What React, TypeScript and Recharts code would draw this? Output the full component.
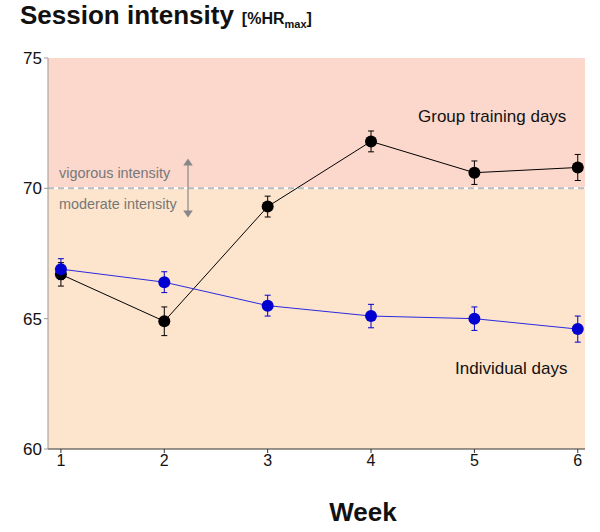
import React from "react";
import {
  LineChart,
  Line,
  XAxis,
  YAxis,
  ReferenceArea,
  ReferenceLine,
  ErrorBar,
} from "recharts";

const weeks = [1, 2, 3, 4, 5, 6];
const groupDays = [66.7, 64.9, 69.3, 71.8, 70.6, 70.8];
const groupErr = [0.45, 0.55, 0.4, 0.4, 0.45, 0.5];
const individualDays = [66.9, 66.4, 65.5, 65.1, 65.0, 64.6];
const individualErr = [0.4, 0.4, 0.4, 0.45, 0.45, 0.5];
const yTicks = [60, 65, 70, 75];

const data = weeks.map((w, i) => ({
  week: w,
  group: groupDays[i],
  groupErr: groupErr[i],
  individual: individualDays[i],
  individualErr: individualErr[i],
}));

const FONT = "'Liberation Sans', Arial, sans-serif";

export default function App() {
  return (
    <div
      style={{
        position: "absolute",
        left: 0,
        top: 0,
        width: 600,
        height: 532,
        background: "#fff",
        fontFamily: FONT,
      }}
    >
      {/* title */}
      <div
        style={{
          position: "absolute",
          left: 20,
          top: 0,
          whiteSpace: "nowrap",
          color: "#111",
        }}
      >
        <span style={{ fontSize: 26, fontWeight: "bold" }}>Session intensity</span>
        <span style={{ fontSize: 16, fontWeight: "bold", marginLeft: 8 }}>
          [%HR<sub style={{ fontSize: 11 }}>max</sub>]
        </span>
      </div>

      <LineChart
        width={600}
        height={532}
        data={data}
        margin={{ top: 58, right: 15, bottom: 0, left: 0 }}
        style={{ fontFamily: FONT }}
      >
        <XAxis
          dataKey="week"
          type="number"
          domain={[0.875, 6.07]}
          ticks={weeks}
          stroke="#333"
          tick={{ fill: "#111", fontSize: 16 }}
          tickSize={4}
          height={83}
        />
        <YAxis
          type="number"
          domain={[60, 75]}
          ticks={yTicks}
          stroke="#999"
          tick={{ fill: "#111", fontSize: 17 }}
          tickSize={4}
          width={48}
        />
        <ReferenceArea y1={70} y2={75} fill="#fcd8cc" fillOpacity={1} stroke="none" />
        <ReferenceArea y1={60} y2={70} fill="#fde4cc" fillOpacity={1} stroke="none" />
        <ReferenceLine y={70} stroke="#fff" strokeWidth={2} />
        <ReferenceLine y={70} stroke="#bbb" strokeWidth={2} strokeDasharray="6 4" />
        <Line
          dataKey="group"
          stroke="#000"
          strokeWidth={1}
          dot={{ r: 6, fill: "#000", stroke: "none" }}
          isAnimationActive={false}
        >
          <ErrorBar dataKey="groupErr" direction="y" width={3} stroke="#000" strokeWidth={1} />
        </Line>
        <Line
          dataKey="individual"
          stroke="#2a2ae0"
          strokeWidth={1}
          dot={{ r: 6, fill: "#0000d0", stroke: "none" }}
          isAnimationActive={false}
        >
          <ErrorBar dataKey="individualErr" direction="y" width={3} stroke="#0000d0" strokeWidth={1} />
        </Line>
      </LineChart>

      {/* annotations */}
      <svg
        width={600}
        height={532}
        style={{ position: "absolute", left: 0, top: 0, pointerEvents: "none" }}
      >
        <defs>
          <marker id="ah" markerWidth="6" markerHeight="8" refX="3" refY="4" orient="auto-start-reverse">
            <path d="M0,0 L6,4 L0,8 z" fill="#888" />
          </marker>
        </defs>
        <text x={59} y={178} fontSize={14.4} fill="#777" fontFamily={FONT}>vigorous intensity</text>
        <text x={59} y={209} fontSize={14.4} fill="#777" fontFamily={FONT}>moderate intensity</text>
        <line
          x1={188}
          y1={162}
          x2={188}
          y2={214}
          stroke="#888"
          strokeWidth={1.2}
          markerStart="url(#ah)"
          markerEnd="url(#ah)"
        />
        <text x={418} y={122} fontSize={17} fill="#111" fontFamily={FONT}>Group training days</text>
        <text x={455} y={374} fontSize={17} fill="#111" fontFamily={FONT}>Individual days</text>
        <text x={363} y={521} fontSize={26} fontWeight="bold" fill="#111" textAnchor="middle" fontFamily={FONT}>Week</text>
      </svg>
    </div>
  );
}
